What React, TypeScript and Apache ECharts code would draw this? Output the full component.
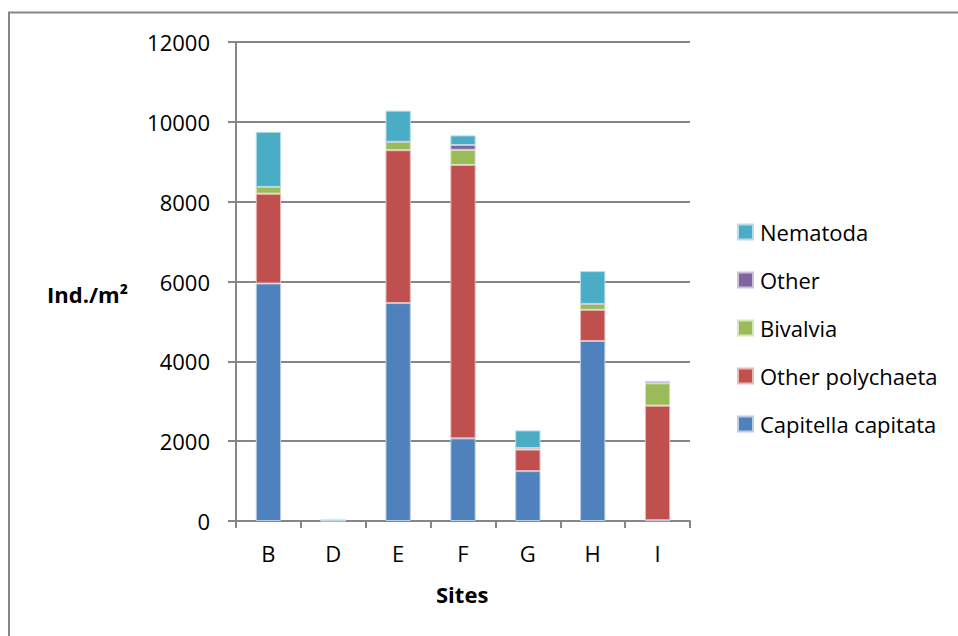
import React, { useEffect, useRef } from "react";
import * as echarts from "echarts";

const sites = ["B", "D", "E", "F", "G", "H", "I"];
const capitella = [5950, 10, 5460, 2070, 1250, 4510, 20];
const otherPoly = [2250, 0, 3830, 6850, 540, 780, 2870];
const bivalvia = [170, 0, 210, 380, 40, 150, 560];
const other = [0, 10, 0, 120, 0, 0, 30];
const nematoda = [1380, 0, 780, 240, 440, 820, 30];
const yTicks = [0, 2000, 4000, 6000, 8000, 10000, 12000];

const FONT = "'Open Sans', sans-serif";

export default function App() {
  const ref = useRef<HTMLDivElement>(null);
  useEffect(() => {
    document.body.style.margin = "0";
    document.body.style.overflow = "hidden";
    if (!ref.current) return;
    const chart = echarts.init(ref.current, undefined, { renderer: "svg" });
    const mk = (name: string, data: number[], color: string, border: string) => ({
      name,
      type: "bar",
      stack: "total",
      data,
      barWidth: "39%",
      itemStyle: { color, borderColor: border, borderWidth: 1 },
      emphasis: { disabled: true },
    });
    chart.setOption({
      animation: false,
      textStyle: { fontFamily: FONT },
      grid: { left: 236, right: 268, top: 42, bottom: 115, containLabel: false },
      legend: {
        orient: "vertical",
        left: 732,
        top: 216,
        itemWidth: 15,
        itemHeight: 15,
        itemGap: 26,
        icon: "rect",
        data: ["Nematoda", "Other", "Bivalvia", "Other polychaeta", "Capitella capitata"],
        textStyle: { fontFamily: FONT, fontSize: 22, color: "#000", padding: [0, 0, 0, 2] },
      },
      xAxis: {
        type: "category",
        data: sites,
        axisLine: { lineStyle: { color: "#868686", width: 2 } },
        axisTick: { show: true, length: 7, lineStyle: { color: "#868686", width: 2 } },
        axisLabel: { color: "#000", fontSize: 22, fontFamily: FONT, margin: 21 },
      },
      yAxis: {
        type: "value",
        min: yTicks[0],
        max: yTicks[yTicks.length - 1],
        interval: 2000,
        axisLine: { show: true, lineStyle: { color: "#868686", width: 2 } },
        axisTick: { show: true, length: 8, lineStyle: { color: "#868686", width: 2 } },
        axisLabel: {
          color: "#000",
          fontSize: 22,
          fontFamily: FONT,
          margin: 26,
          formatter: (v: number) => String(v),
        },
        splitLine: { lineStyle: { color: "#868686", width: 2 } },
      },
      graphic: [
        {
          type: "rect",
          shape: { x: 9, y: 12.5, width: 1000, height: 700 },
          style: { fill: "none", stroke: "#868686", lineWidth: 2 },
          silent: true,
        },
        {
          type: "text",
          x: 47,
          y: 283,
          style: { text: "Ind./m²", font: `bold 22px ${FONT}`, fill: "#000" },
        },
        {
          type: "text",
          x: 436,
          y: 583,
          style: { text: "Sites", font: `bold 22px ${FONT}`, fill: "#000" },
        },
      ],
      series: [
        mk("Capitella capitata", capitella, "#4F81BD", "#B9CDE5"),
        mk("Other polychaeta", otherPoly, "#C0504D", "#E6B9B8"),
        mk("Bivalvia", bivalvia, "#9BBB59", "#D7E4BD"),
        mk("Other", other, "#8064A2", "#CCC1DA"),
        mk("Nematoda", nematoda, "#4BACC6", "#B7DEE8"),
      ],
    });
    return () => chart.dispose();
  }, []);
  return <div ref={ref} style={{ width: 958, height: 636 }} />;
}
